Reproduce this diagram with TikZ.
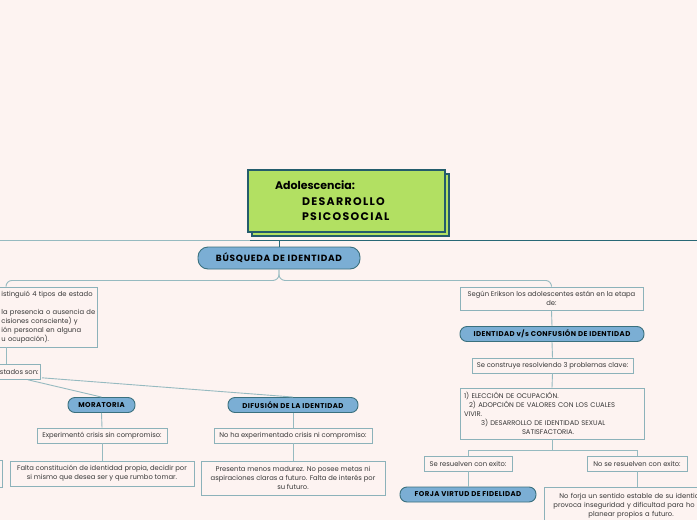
\documentclass[tikz,border=0pt]{standalone}
\usepackage{fontspec}
\setmainfont{Poppins}
\usepackage{xcolor}
\usepackage{tikz}
\usetikzlibrary{positioning,calc}
\definecolor{bgpink}{RGB}{253,243,241}
\definecolor{titlegreen}{RGB}{178,224,98}
\definecolor{titleedge}{RGB}{36,92,108}
\definecolor{pillblue}{RGB}{123,174,212}
\definecolor{pilledge}{RGB}{58,112,126}
\definecolor{boxedge}{RGB}{140,178,186}
\definecolor{linkgray}{RGB}{150,186,192}
\definecolor{linkdark}{RGB}{40,104,118}
\definecolor{textgray}{RGB}{55,55,55}

\begin{document}
\begin{tikzpicture}[
  x=1pt, y=-1pt,
  box/.style={rectangle, draw=boxedge, line width=0.8pt, fill=bgpink, text=textgray,
              font=\fontsize{6.8}{9}\selectfont, align=center, inner sep=2pt, minimum height=15pt},
  pill/.style={rectangle, rounded corners=7pt, draw=pilledge, line width=0.9pt, fill=pillblue,
               text=black, font=\fontsize{7}{8}\selectfont\bfseries\addfontfeatures{LetterSpace=6},
               minimum height=15pt, inner sep=1pt},
  titlebox/.style={rectangle, draw=titleedge, line width=1.3pt, fill=titlegreen,
                   minimum width=197pt, minimum height=62pt},
  link/.style={draw=linkgray, line width=0.9pt},
  darklink/.style={draw=linkdark, line width=1pt}
]
\useasboundingbox (0,0) rectangle (697,520);
\fill[bgpink] (0,0) rectangle (697,520);
\clip (0,0) rectangle (697,520);

% title
\node[titlebox] (titleback) at (350.5,205) {};
\node[titlebox, text width=143pt, inner xsep=27pt, align=left,
      font=\fontsize{11}{15.5}\selectfont\bfseries] (title) at (346.5,201)
  {Adolescencia:\\\hspace*{27pt}{\addfontfeatures{LetterSpace=12}DESARROLLO}\\
   \hspace*{27pt}{\addfontfeatures{LetterSpace=12}PSICOSOCIAL}};

\coordinate (hubL) at (0,240);
\coordinate (hubM) at (250,240);
\coordinate (hubR) at (697,240);

\node[pill, minimum width=162pt, minimum height=22pt, rounded corners=10pt,
      font=\fontsize{9}{9}\selectfont\bfseries\addfontfeatures{LetterSpace=8}] (busq) at (279,258)
  {BÚSQUEDA DE IDENTIDAD};

% left branch
\node[box, anchor=north west, text width=94pt, align=left, minimum height=60pt] (marcia) at (-1,286.5)
  {istinguió 4 tipos de estado\\[9pt]la presencia o ausencia de\\cisiones consciente) y\\ión personal en alguna\\u ocupación).};
\node[box, anchor=north east] (estados) at (41,364) {stados son:};

\node[pill, minimum width=67pt] (moratoria) at (101.5,405) {MORATORIA};
\node[pill, minimum width=130pt] (difusion) at (293,405) {DIFUSIÓN DE LA IDENTIDAD};

\node[box, minimum width=130pt] (exp1) at (102,435.5) {Experimentó crisis sin compromiso:};
\node[box, minimum width=158pt] (exp2) at (293,435.5) {No ha experimentado crisis ni compromiso:};

\node[box, minimum width=184pt, minimum height=25pt] (falta) at (102,473.5)
  {Falta constitución de identidad propia, decidir por\\si mismo que desea ser y que rumbo tomar.};
\node[box, minimum width=184pt, minimum height=34pt] (presenta) at (293,478)
  {Presenta menos madurez. No posee metas ni\\aspiraciones claras a futuro. Falta de interés por\\su futuro.};
\node[box, anchor=north east, minimum width=40pt, minimum height=27pt] (edgebox) at (3,460) {};

% right branch
\node[box, minimum width=183pt, minimum height=23pt] (erikson) at (551.5,298.5)
  {Según Erikson los adolescentes están en la etapa\\de:};
\node[pill, minimum width=184pt] (idcon) at (552,334) {IDENTIDAD v/s CONFUSIÓN DE IDENTIDAD};
\node[box, minimum width=161pt] (construye) at (552.5,365.5) {Se construye resolviendo 3 problemas clave:};
\node[box, text width=176pt, inner xsep=4pt, align=left, minimum height=51pt] (problemas) at (552,413.5)
  {1) ELECCIÓN DE OCUPACIÓN.\\
   \hspace*{5pt}2) ADOPCIÓN DE VALORES CON LOS CUALES\\
   VIVIR.\\
   \hspace*{17pt}3) DESARROLLO DE IDENTIDAD SEXUAL\\
   \hspace*{58pt}SATISFACTORIA.};
\node[box, minimum width=88pt] (resuelven) at (468,463.5) {Se resuelven con exito:};
\node[box, minimum width=100pt] (noresuelven) at (637,463.5) {No se resuelven con exito:};
\node[pill, minimum width=136pt] (forja) at (468,494.5) {FORJA VIRTUD DE FIDELIDAD};
\node[box, anchor=north west, text width=182pt, align=left, minimum height=38pt] (noforja) at (544,486.5)
  {\hspace*{13pt}No forja un sentido estable de su identid\\
   \hspace*{7pt}provoca inseguridad y dificultad para ho\\
   \hspace*{42pt}planear propios a futuro.};

% connectors
\draw[link] (hubL) -- (hubM);
\draw[darklink] (hubM) -- (hubR);
\draw[darklink] ($(title.south)+(1.5,0)$) -- ($(title.south)+(1.5,0)$ |- hubM);
\draw[darklink] (busq.north) -- (busq.north |- hubM);

\coordinate (mtop) at ($(marcia.north west)+(7,0)$);
\coordinate (mdrop) at ($(marcia.south west)+(7,0)$);
\draw[link, rounded corners=6pt] (busq.south) -- ++(0,11) -| (mtop);
\draw[link, rounded corners=6pt] (busq.south) -- ++(0,11) -| (erikson.north);
\draw[link] (mdrop) -- (mdrop |- estados.north);
\draw[link] ($(estados.south east)+(-13,0)$) -- (moratoria.north);
\draw[link] ($(estados.south east)+(1,-2)$) -- (difusion.north);
\draw[link] (moratoria.south) -- (exp1.north);
\draw[link] (exp1.south) -- (falta.north);
\draw[link] (difusion.south) -- (exp2.north);
\draw[link] (exp2.south) -- (presenta.north);

\draw[link] (erikson.south) -- (idcon.north);
\draw[link] (idcon.south) -- (construye.north);
\draw[link] (construye.south) -- (problemas.north);
\draw[link] (problemas.south) -- ++(0,11) -| (resuelven.north);
\draw[link] (problemas.south) -- ++(0,11) -| (noresuelven.north);
\draw[link] (resuelven.south) -- (forja.north);
\draw[link] (noresuelven.south) -- (noresuelven.south |- noforja.north);

\end{tikzpicture}
\end{document}
